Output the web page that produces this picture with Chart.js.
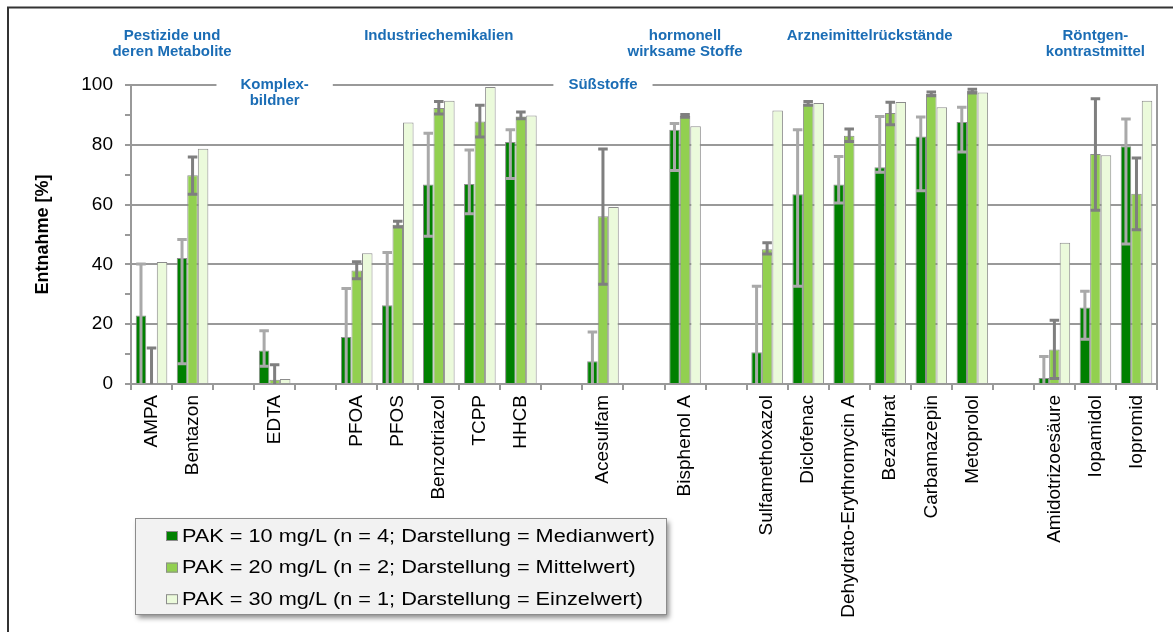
<!DOCTYPE html>
<html><head><meta charset="utf-8">
<script src="https://cdn.jsdelivr.net/npm/chart.js@4.4.1/dist/chart.umd.min.js"></script>
<style>html,body{margin:0;padding:0;background:#fff;overflow:hidden}#wrap{width:1173px;height:632px;position:relative}</style>
</head><body><div id="wrap"><canvas id="c" width="1173" height="632"></canvas></div>
<script>
const categories = ['AMPA','Bentazon','','EDTA','','PFOA','PFOS','Benzotriazol','TCPP','HHCB','','Acesulfam','','Bisphenol A','','Sulfamethoxazol','Diclofenac','Dehydrato-Erythromycin A','Bezafibrat','Carbamazepin','Metoprolol','','Amidotrizoesäure','Iopamidol','Iopromid'];
const seriesLabels = ['PAK = 10 mg/L (n = 4; Darstellung = Medianwert)','PAK = 20 mg/L (n = 2; Darstellung = Mittelwert)','PAK = 30 mg/L (n = 1; Darstellung = Einzelwert)'];
const pak10     = [22.9, 42.1, null, 11.2, null, 15.7, 26.3, 66.7, 66.9, 80.9, null, 7.6, null, 85.0, null, 10.6, 63.5, 66.7, 72.5, 82.8, 87.6, null, 2.0, 25.6, 79.5];
const pak10Low  = [0, 6.8, null, 5.9, null, 0, 0, 49.4, 56.9, 68.7, null, 0, null, 71.4, null, 0, 32.7, 60.5, 70.8, 64.6, 77.6, null, 0, 15.0, 46.8];
const pak10High = [40.1, 48.3, null, 17.8, null, 31.9, 44.0, 83.9, 78.3, 85.0, null, 17.4, null, 87.1, null, 32.7, 85.0, 76.1, 89.5, 89.3, 92.6, null, 9.2, 31.0, 88.6];
const pak20     = [0.3, 69.8, null, 1.4, null, 38.0, 53.3, 92.3, 87.8, 89.5, null, 56.1, null, 89.6, null, 45.1, 93.8, 83.0, 90.6, 97.0, 98.0, null, 11.5, 76.9, 63.6];
const pak20Low  = [0, 63.5, null, 0, null, 35.2, 52.5, 90.3, 82.6, 88.7, null, 33.4, null, 89.2, null, 43.5, 93.2, 81.1, 86.7, 96.4, 97.3, null, 1.8, 58.1, 51.6];
const pak20High = [12.0, 75.9, null, 6.4, null, 40.9, 54.4, 94.5, 93.2, 91.0, null, 78.6, null, 90.1, null, 47.2, 94.5, 85.3, 94.2, 97.7, 98.6, null, 21.3, 95.4, 75.6];
const pak30     = [40.8, 78.7, null, 1.7, null, 43.7, 87.5, 94.7, 99.3, 89.8, null, 59.2, null, 86.2, null, 91.5, 94.0, null, 94.3, 92.6, 97.5, null, 47.2, 76.5, 94.7];
const yTickLabels = [0, 20, 40, 60, 80, 100];
const groupNames = [['Pestizide und','deren Metabolite'], ['Komplex-','bildner'], ['Industriechemikalien'], ['Süßstoffe'], ['hormonell','wirksame Stoffe'], ['Arzneimittelrückstände'], ['Röntgen-','kontrastmittel']];
const groupFirst = [0, 3, 5, 11, 13, 15, 22];
const groupLast  = [1, 3, 9, 11, 13, 20, 24];
const groupOnAxis = [false, true, false, true, false, false, false];

const FONT = '"Liberation Sans", Arial, sans-serif';
const GRAY = '#999999';
const GAP_PAD = {1: 24, 3: 15};

const framePlugin = {
  id: 'frame',
  afterDraw(chart) {
    const ctx = chart.ctx, ca = chart.chartArea, xs = chart.scales.x, ys = chart.scales.y;
    ctx.save();
    ctx.font = 'bold 15px ' + FONT;
    ctx.fillStyle = '#1b6db5';
    ctx.textAlign = 'center';
    ctx.textBaseline = 'middle';
    const yTop = ys.getPixelForValue(100);
    const gaps = [];
    groupNames.forEach((lines, g) => {
      const cx = (xs.getPixelForValue(groupFirst[g]) + xs.getPixelForValue(groupLast[g])) / 2;
      const y0 = groupOnAxis[g] ? yTop : 36;
      lines.forEach((t, k) => ctx.fillText(t, cx, y0 + k * 16));
      if (groupOnAxis[g]) {
        const w = Math.max(...lines.map(t => ctx.measureText(t).width));
        const pad = GAP_PAD[g] || 18;
        gaps.push([cx - w / 2 - pad, cx + w / 2 + pad]);
      }
    });
    ctx.strokeStyle = GRAY;
    ctx.lineWidth = 2;
    ctx.beginPath();
    let x = ca.left - 6;
    gaps.sort((a, b) => a[0] - b[0]).forEach(gp => {
      ctx.moveTo(x, yTop); ctx.lineTo(gp[0], yTop); x = gp[1];
    });
    ctx.moveTo(x, yTop); ctx.lineTo(ca.right + 1, yTop);
    ctx.moveTo(ca.right, yTop); ctx.lineTo(ca.right, ca.bottom);
    ctx.stroke();
    // legend
    const lx = 135, ly = 518, lw = 531, lh = 96;
    ctx.save();
    ctx.shadowColor = 'rgba(0,0,0,0.45)';
    ctx.shadowBlur = 5; ctx.shadowOffsetX = 3; ctx.shadowOffsetY = 4;
    ctx.fillStyle = '#f2f2f2';
    ctx.fillRect(lx, ly, lw, lh);
    ctx.restore();
    ctx.strokeStyle = '#8c8c8c'; ctx.lineWidth = 1;
    ctx.strokeRect(lx + 0.5, ly + 0.5, lw, lh);
    chart.data.datasets.forEach((ds, i) => {
      const cy = 536 + i * 31.6;
      ctx.fillStyle = ds.backgroundColor;
      ctx.fillRect(166, cy - 5, 12, 10);
      ctx.strokeStyle = '#8c8c8c';
      ctx.strokeRect(166.5, cy - 4.5, 11, 9);
      ctx.save();
      ctx.translate(182, cy);
      ctx.scale(1.24, 1);
      ctx.font = '17.5px ' + FONT;
      ctx.fillStyle = '#000';
      ctx.textAlign = 'left';
      ctx.textBaseline = 'middle';
      ctx.fillText(ds.label, 0, 1);
      ctx.restore();
    });
    ctx.strokeStyle = '#333333';
    ctx.lineWidth = 2;
    ctx.strokeRect(8, 7.5, 1200, 700);
    ctx.restore();
  }
};

const errPlugin = {
  id: 'errbars',
  afterDatasetsDraw(chart) {
    const ctx = chart.ctx, ys = chart.scales.y;
    const specs = [
      {ds: 0, low: pak10Low, high: pak10High, color: '#a9a9a9'},
      {ds: 1, low: pak20Low, high: pak20High, color: '#7f7f7f'}
    ];
    ctx.save();
    ctx.lineWidth = 3;
    specs.forEach(sp => {
      const meta = chart.getDatasetMeta(sp.ds);
      ctx.strokeStyle = sp.color;
      meta.data.forEach((bar, i) => {
        if (sp.low[i] == null || sp.high[i] == null) return;
        const p = bar.getProps(['x', 'width'], true);
        const yl = ys.getPixelForValue(sp.low[i]);
        const yh = ys.getPixelForValue(sp.high[i]);
        const hw = p.width / 2 - 0.5;
        ctx.beginPath();
        ctx.moveTo(p.x, yl); ctx.lineTo(p.x, yh);
        ctx.moveTo(p.x - hw, yh); ctx.lineTo(p.x + hw, yh);
        if (sp.low[i] > 0) { ctx.moveTo(p.x - hw, yl); ctx.lineTo(p.x + hw, yl); }
        ctx.stroke();
      });
    });
    ctx.restore();
  }
};

new Chart(document.getElementById('c'), {
  type: 'bar',
  data: {
    labels: categories,
    datasets: [
      {label: seriesLabels[0], data: pak10, backgroundColor: '#008000', borderColor: '#8c8c8c', borderWidth: 1},
      {label: seriesLabels[1], data: pak20, backgroundColor: '#92d050', borderColor: '#8c8c8c', borderWidth: 1},
      {label: seriesLabels[2], data: pak30, backgroundColor: '#ebfadb', borderColor: '#8c8c8c', borderWidth: 1}
    ]
  },
  options: {
    responsive: false,
    animation: false,
    layout: {padding: {left: 10, top: 85, right: 16, bottom: 0}},
    datasets: {bar: {categoryPercentage: 0.77, barPercentage: 1}},
    plugins: {legend: {display: false}, tooltip: {enabled: false}},
    scales: {
      x: {
        grid: {display: true, drawOnChartArea: false, offset: true, tickLength: 6, color: GRAY, lineWidth: 2},
        border: {color: GRAY, width: 2},
        ticks: {autoSkip: false, minRotation: 90, maxRotation: 90, padding: 5, color: '#000', font: {family: FONT, size: 19}},
        afterFit(s) { s.height = 248; }
      },
      y: {
        min: 0, max: 100,
        ticks: {stepSize: 10, padding: 12, color: '#000', font: {family: FONT, size: 19},
          callback: v => yTickLabels.includes(v) ? String(v) : ''},
        grid: {
          color: c => (c.tick && [20, 40, 60, 80].includes(c.tick.value)) ? GRAY : 'rgba(0,0,0,0)',
          tickColor: GRAY, tickLength: 6, lineWidth: 2
        },
        border: {color: GRAY, width: 2},
        title: {display: true, text: 'Entnahme [%]', color: '#000', font: {family: FONT, size: 18, weight: 'bold'}, padding: {top: 22, bottom: 0}},
        afterFit(s) { s.width = 121; }
      }
    }
  },
  plugins: [errPlugin, framePlugin]
});
</script></body></html>
